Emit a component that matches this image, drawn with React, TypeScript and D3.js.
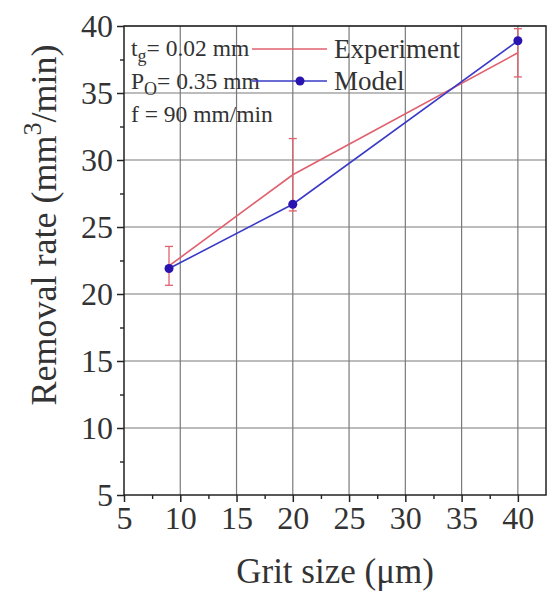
import * as d3 from "d3"
import { useRef, useEffect } from "react"

// grit size (um)
const gritSizes = [9, 20, 40]
// experiment removal rate + error
const experimentRate = [22.1, 28.9, 38.0]
const experimentErr = [1.45, 2.7, 1.8]
// model removal rate
const modelRate = [21.9, 26.7, 38.9]

const xTicks = [5, 10, 15, 20, 25, 30, 35, 40]
const yTicks = [5, 10, 15, 20, 25, 30, 35, 40]
const annotations = [
  { main: "t", sub: "g", rest: "= 0.02 mm" },
  { main: "P", sub: "O", rest: "= 0.35 mm" },
  { main: "f = 90 mm/min", sub: "", rest: "" },
]

export default function App() {
  const width = 551
  const height = 594
  const margin = { top: 26, right: 5, bottom: 99, left: 124 }
  const font = "'Liberation Serif', 'DejaVu Serif', serif"

  const x = d3.scaleLinear().domain([5, 42.5]).range([margin.left, width - margin.right])
  const y = d3.scaleLinear().domain([5, 40]).range([height - margin.bottom, margin.top])

  const xAxisRef = useRef<SVGGElement>(null)
  const yAxisRef = useRef<SVGGElement>(null)
  const xMinorRef = useRef<SVGGElement>(null)
  const yMinorRef = useRef<SVGGElement>(null)

  useEffect(() => {
    const xAxis = d3.axisBottom(x).tickValues(xTicks).tickSize(7).tickPadding(4).tickFormat(d3.format("d"))
    const yAxis = d3.axisLeft(y).tickValues(yTicks).tickSize(7).tickPadding(4).tickFormat(d3.format("d"))
    const xa = d3.select(xAxisRef.current!).call(xAxis)
    const ya = d3.select(yAxisRef.current!).call(yAxis)
    for (const a of [xa, ya]) {
      a.select(".domain").remove()
      a.selectAll(".tick line").attr("stroke", "#222").attr("stroke-width", 1.5)
      a.selectAll("text").attr("font-family", font).attr("font-size", 32).attr("fill", "#333")
    }
    const xm = d3.select(xMinorRef.current!).call(
      d3.axisBottom(x).tickValues(d3.range(7.5, 42.5, 5)).tickSize(4).tickFormat(() => "")
    )
    const ym = d3.select(yMinorRef.current!).call(
      d3.axisLeft(y).tickValues(d3.range(7.5, 40, 5)).tickSize(4).tickFormat(() => "")
    )
    for (const a of [xm, ym]) {
      a.select(".domain").remove()
      a.selectAll(".tick line").attr("stroke", "#222").attr("stroke-width", 1.4)
    }
  }, [])

  const expLine = d3.line<number>()
    .x((_, i) => x(gritSizes[i]))
    .y((d) => y(d))
  const modelLine = d3.line<number>()
    .x((_, i) => x(gritSizes[i]))
    .y((d) => y(d))

  const red = "#e0606e"
  const blue = "#3a3ac8"
  const dot = "#2a14b0"
  const grid = "#7a7a7a"

  return (
    <svg width={width} height={height} style={{ position: "absolute", left: 0, top: 0, background: "#fff" }}>
      {/* grid */}
      {xTicks.slice(1).map((t) => (
        <line key={"gx" + t} x1={x(t)} x2={x(t)} y1={y(5)} y2={y(40)} stroke={grid} strokeWidth={1.2} />
      ))}
      {yTicks.slice(1).map((t) => (
        <line key={"gy" + t} x1={x(5)} x2={x(42.5)} y1={y(t)} y2={y(t)} stroke={grid} strokeWidth={1.2} />
      ))}

      {/* frame */}
      <rect x={x(5)} y={y(40)} width={x(42.5) - x(5)} height={y(5) - y(40)} fill="none" stroke="#222" strokeWidth={1.5} />

      <g ref={xAxisRef} transform={`translate(0, ${height - margin.bottom})`} />
      <g ref={xMinorRef} transform={`translate(0, ${height - margin.bottom})`} />
      <g ref={yAxisRef} transform={`translate(${margin.left}, 0)`} />
      <g ref={yMinorRef} transform={`translate(${margin.left}, 0)`} />

      {/* error bars */}
      <g stroke={red} strokeWidth={1.3}>
        {gritSizes.map((g, i) => (
          <g key={"e" + i}>
            <line x1={x(g)} x2={x(g)} y1={y(experimentRate[i] - experimentErr[i])} y2={y(experimentRate[i] + experimentErr[i])} />
            <line x1={x(g) - 4} x2={x(g) + 4} y1={y(experimentRate[i] - experimentErr[i])} y2={y(experimentRate[i] - experimentErr[i])} />
            <line x1={x(g) - 4} x2={x(g) + 4} y1={y(experimentRate[i] + experimentErr[i])} y2={y(experimentRate[i] + experimentErr[i])} />
          </g>
        ))}
      </g>

      <path d={expLine(experimentRate) ?? ""} fill="none" stroke={red} strokeWidth={1.6} />
      <path d={modelLine(modelRate) ?? ""} fill="none" stroke={blue} strokeWidth={1.6} />
      {gritSizes.map((g, i) => (
        <circle key={"m" + i} cx={x(g)} cy={y(modelRate[i])} r={4.5} fill={dot} />
      ))}

      {/* annotations */}
      <g fontFamily={font} fontSize={23.5} fill="#333">
        {annotations.map((a, i) => (
          <text key={"a" + i} x={131} y={56 + i * 33}>
            {a.main}
            {a.sub && <tspan dy={6} fontSize={18}>{a.sub}</tspan>}
            {a.rest && <tspan dy={a.sub ? -6 : 0}>{a.rest}</tspan>}
          </text>
        ))}
      </g>

      {/* legend */}
      <g fontFamily={font} fontSize={27} fill="#333">
        <line x1={252} x2={327} y1={49} y2={49} stroke={red} strokeWidth={1.6} />
        <text x={334} y={58}>Experiment</text>
        <line x1={252} x2={327} y1={81} y2={81} stroke={blue} strokeWidth={1.6} />
        <circle cx={300} cy={81} r={4.5} fill={dot} />
        <text x={334} y={90}>Model</text>
      </g>

      {/* axis titles */}
      <text x={(x(5) + x(42.5)) / 2} y={583} textAnchor="middle" fontFamily={font} fontSize={35} fill="#333">
        Grit size (μm)
      </text>
      <text transform={`translate(56, 225) rotate(-90)`} textAnchor="middle" fontFamily={font} fontSize={36} fill="#333">
        Removal rate (mm<tspan dy={-15} fontSize={26}>3</tspan><tspan dy={15}>/min)</tspan>
      </text>
    </svg>
  )
}
